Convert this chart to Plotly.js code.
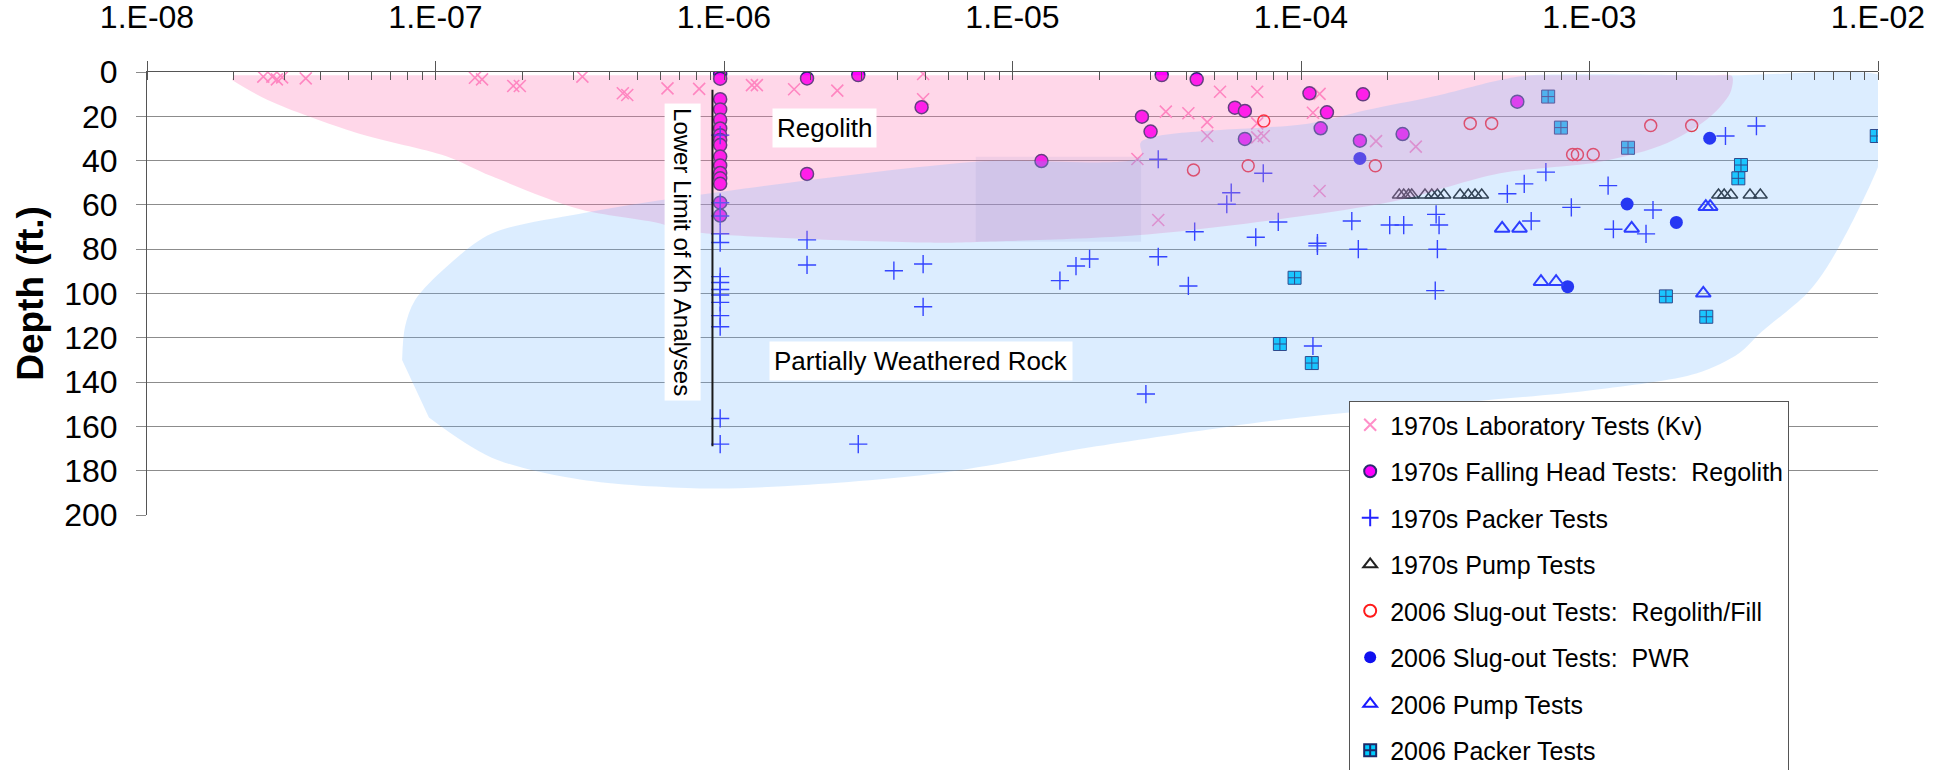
<!DOCTYPE html>
<html><head><meta charset="utf-8">
<script src="https://cdn.plot.ly/plotly-3.0.1.min.js"></script>
<style>html,body{margin:0;padding:0;background:#fff}#chart{width:1956px;height:770px}</style>
</head><body><div id="chart"></div>
<script>
// ---------- tick labels ----------
const xTickVals = [1e-8, 1e-7, 1e-6, 1e-5, 1e-4, 1e-3, 1e-2];
const xTickText = ["1.E-08", "1.E-07", "1.E-06", "1.E-05", "1.E-04", "1.E-03", "1.E-02"];
const yTickVals = [0, 20, 40, 60, 80, 100, 120, 140, 160, 180, 200];

// ---------- series names ----------
const seriesNames = [
  "1970s Laboratory Tests (Kv)",
  "1970s Falling Head Tests:  Regolith",
  "1970s Packer Tests",
  "1970s Pump Tests",
  "2006 Slug-out Tests:  Regolith/Fill",
  "2006 Slug-out Tests:  PWR",
  "2006 Pump Tests",
  "2006 Packer Tests"
];

// ---------- data: hydraulic conductivity (K) vs depth (ft) ----------
const labK = [2.53e-8, 2.72e-8, 2.82e-8, 2.94e-8, 3.55e-8, 1.37e-7, 1.45e-7, 1.86e-7, 1.96e-7, 3.23e-7,
  4.46e-7, 4.62e-7, 6.37e-7, 8.2e-7, 1.25e-6, 1.30e-6, 1.75e-6, 2.47e-6, 4.9e-6, 4.9e-6,
  2.71e-5, 3.20e-5, 3.40e-5, 4.07e-5, 4.73e-5, 4.73e-5, 5.24e-5, 7.05e-5, 7.05e-5, 7.05e-5,
  7.43e-5, 1.16e-4, 1.10e-4, 1.16e-4, 1.82e-4, 2.50e-4];
const labD = [2.1, 2.1, 3.3, 2.4, 2.9, 2.6, 3.3, 6.3, 6.3, 2.1,
  9.6, 10.4, 7.4, 7.6, 5.9, 5.9, 7.8, 8.4, 0.9, 12.3,
  39.3, 66.8, 17.9, 18.6, 22.6, 28.9, 8.9, 8.9, 23.2, 29.5,
  28.9, 9.9, 18.4, 53.7, 31.2, 33.7];

const fallK = [9.7e-7, 9.7e-7, 9.7e-7, 9.7e-7, 9.7e-7, 9.7e-7, 9.7e-7, 9.7e-7, 9.7e-7, 9.7e-7,
  9.7e-7, 9.7e-7, 9.7e-7, 9.7e-7, 9.7e-7, 9.7e-7,
  1.94e-6, 2.92e-6, 4.84e-6, 1.94e-6, 1.26e-5, 2.81e-5, 3.01e-5, 3.29e-5, 4.35e-5, 5.90e-5,
  6.39e-5, 6.39e-5, 1.07e-4, 1.64e-4, 1.23e-4, 1.17e-4, 1.60e-4, 2.25e-4, 5.62e-4];
const fallD = [0.9, 3.0, 12.3, 16.9, 21.6, 25.5, 28.5, 30.7, 33.0, 38.2,
  42.2, 45.6, 48.0, 50.5, 59.0, 64.8,
  2.9, 1.4, 15.9, 46.0, 40.2, 20.2, 26.9, 1.4, 3.3, 16.1,
  17.6, 30.2, 9.6, 10.1, 18.2, 25.4, 31.0, 28.0, 13.4];

const packK = [9.7e-7, 9.7e-7, 9.7e-7, 9.7e-7, 9.7e-7, 9.7e-7, 9.7e-7, 9.7e-7, 9.7e-7, 9.7e-7,
  9.7e-7, 9.7e-7, 9.7e-7, 9.7e-7,
  1.94e-6, 1.94e-6, 3.88e-6, 4.9e-6, 4.9e-6, 2.92e-6, 1.46e-5, 1.66e-5, 1.85e-5, 3.20e-5,
  3.20e-5, 4.07e-5, 2.90e-5, 5.73e-5, 5.53e-5, 7.4e-5, 4.28e-5, 6.97e-5, 8.34e-5, 1.10e-4,
  1.14e-4, 1.14e-4, 1.50e-4, 1.58e-4, 2.03e-4, 2.27e-4, 2.94e-4, 3.01e-4, 2.97e-4, 2.92e-4,
  5.19e-4, 5.94e-4, 7.06e-4, 6.28e-4, 8.65e-4, 1.16e-3, 1.21e-3, 1.57e-3, 1.66e-3, 2.96e-3,
  3.79e-3];
const packD = [28.5, 59, 65, 73, 77, 92.4, 95, 98.2, 100.7, 104,
  110, 115, 156.4, 168,
  75.8, 87.1, 89.7, 86.7, 106, 168, 94.2, 87.6, 84.4, 39.4,
  83.4, 96.6, 145.4, 54.5, 59.7, 45.7, 72.1, 74.6, 67.7, 123.7,
  77.3, 78.5, 67.3, 80.0, 69.1, 69.1, 64.3, 69.1, 80.0, 98.7,
  55.0, 50.5, 45.2, 67.3, 61.1, 51.3, 71.0, 73.1, 62.3, 28.9,
  24.4];

const pump70K = [2.19e-4, 2.27e-4, 2.36e-4, 2.42e-4, 2.69e-4, 2.84e-4, 2.97e-4, 3.13e-4, 3.56e-4,
  3.80e-4, 4.01e-4, 4.23e-4, 2.80e-3, 2.93e-3, 3.09e-3, 3.60e-3, 3.91e-3];
const pump70D = [55.5, 55.5, 55.5, 55.5, 55.5, 55.5, 55.5, 55.5, 55.5,
  55.5, 55.5, 55.5, 55.5, 55.5, 55.5, 55.5, 55.5];

const slugRegK = [7.43e-5, 4.24e-5, 6.56e-5, 3.86e-4, 4.58e-4, 1.81e-4, 8.74e-4, 9.08e-4, 1.03e-3, 1.63e-3, 2.26e-3];
const slugRegD = [22.1, 44.2, 42.3, 23.2, 23.2, 42.3, 37.2, 37.2, 37.2, 24.2, 24.2];

const slugPwrK = [1.60e-4, 8.40e-4, 2.61e-3, 1.35e-3, 2.00e-3];
const slugPwrD = [39.0, 96.9, 29.9, 59.6, 67.9];

const pump06K = [4.98e-4, 5.72e-4, 6.79e-4, 7.66e-4, 1.40e-3, 2.53e-3, 2.62e-3, 2.48e-3];
const pump06D = [70.6, 70.6, 94.7, 94.7, 70.6, 60.8, 60.8, 99.9];

const pack06K = [7.19e-4, 7.96e-4, 1.36e-3, 3.35e-3, 3.28e-3, 9.9e-3, 9.5e-5, 8.45e-5, 1.09e-4, 1.84e-3, 2.54e-3];
const pack06D = [11.1, 25.1, 34.2, 42.0, 48.0, 28.9, 92.9, 122.8, 131.4, 101.3, 110.5];

// ---------- zone outlines (K, depth) ----------
const regolithZoneK = [2.0e-8, 1.0e-6, 1.0e-4, 2.6e-3, 3.1e-3, 3.14e-3, 3.07e-3, 2.62e-3, 1.86e-3, 1.09e-3,
  4.90e-4, 2.20e-4, 1.07e-4, 2.77e-5, 7.53e-6, 4.90e-6, 7.62e-7, 5.81e-7, 3.17e-7, 1.56e-7,
  1.09e-7, 5.34e-8, 2.62e-8, 1.97e-8];
const regolithZoneD = [1.5, 1.5, 1.5, 1.5, 1.6, 3, 9.6, 20.2, 32, 40.5,
  45.7, 57.8, 64.6, 73.6, 76.7, 77, 72, 68, 62, 47,
  38, 27.5, 12.6, 3.6];

const pwrZoneK = [7.66e-8, 7.84e-8, 8.49e-8, 1.09e-7, 1.56e-7, 3.17e-7, 7.62e-7, 7.46e-6, 2.79e-5, 2.79e-5,
  1.07e-4, 1.69e-4, 2.87e-4, 4.90e-4, 6.22e-4, 3.0e-3, 1.02e-2, 1.10e-2, 1.12e-2, 1.07e-2,
  9.92e-3, 8.19e-3, 6.66e-3, 5.67e-3, 3.90e-3, 3.30e-3, 2.36e-3, 1.03e-3, 3.76e-4, 9.93e-5,
  5.67e-5, 1.95e-5, 5.61e-6, 1.61e-6, 8.26e-7, 3.17e-7, 1.56e-7, 9.49e-8];
const pwrZoneD = [130, 115, 103, 88, 73, 64, 56, 40.5, 38.3, 31.6,
  23.2, 17.2, 11.1, 3.6, 1.5, 1.5, 1.5, 6, 17, 32,
  44, 67, 88, 100, 118, 127, 136, 143.6, 149, 156,
  160, 169, 181, 187, 188, 184, 174, 156];

const stepZoneK = [7.46e-6, 2.79e-5, 2.79e-5, 7.46e-6];
const stepZoneD = [38.3, 38.3, 76.6, 76.6];

const limitK = [9.12e-7, 9.12e-7];
const limitD = [8, 169];

// ---------- traces ----------
const FONT = "Liberation Sans, Arial, Helvetica, sans-serif";
function pts(x, y, name, marker, grp) {
  return {type: 'scatter', mode: 'markers', x: x, y: y, name: name, marker: marker,
          legendgroup: grp, hoverinfo: 'x+y+name'};
}
const traces = [
  pts(labK, labD, seriesNames[0], {symbol: 'x-thin', size: 12, color: '#ff8fc8', line: {color: '#ff8fc8', width: 1.6}}, 'g1'),
  pts(fallK, fallD, seriesNames[1], {symbol: 'circle', size: 13, color: '#ff00ff', line: {color: '#2b2b70', width: 1.5}}, 'g2'),
  pts(packK, packD, seriesNames[2], {symbol: 'cross-thin', size: 13, color: '#2323ff', line: {color: '#2323ff', width: 1.4}}, 'g3'),
  pts(pump70K, pump70D, seriesNames[3], {symbol: 'triangle-up-open', size: 12, color: '#222222', line: {color: '#222222', width: 1.5}}, 'g4'),
  pts(slugRegK, slugRegD, seriesNames[4], {symbol: 'circle-open', size: 12, color: '#ff1a1a', line: {color: '#ff1a1a', width: 1.5}}, 'g5'),
  pts(slugPwrK, slugPwrD, seriesNames[5], {symbol: 'circle', size: 13, color: '#1010f0', line: {color: '#1010f0', width: 0}}, 'g6'),
  pts(pump06K, pump06D, seriesNames[6], {symbol: 'triangle-up-open', size: 13, color: '#1a1aff', line: {color: '#1a1aff', width: 2}}, 'g7'),
  pts(pack06K, pack06D, seriesNames[7], {symbol: 'square-cross', size: 13, color: '#00ccff', line: {color: '#1c2a6a', width: 1}}, 'g8')
];
// zone overlays (semi-transparent, drawn above the points as in the source)
traces.push({type: 'scatter', mode: 'lines', x: regolithZoneK, y: regolithZoneD, fill: 'toself',
  fillcolor: 'rgba(255,110,175,0.28)', line: {width: 0, shape: 'spline', smoothing: 0.9},
  showlegend: false, hoverinfo: 'skip'});
traces.push({type: 'scatter', mode: 'lines', x: pwrZoneK, y: pwrZoneD, fill: 'toself',
  fillcolor: 'rgba(110,180,255,0.24)', line: {width: 0, shape: 'spline', smoothing: 0.9},
  showlegend: false, hoverinfo: 'skip'});
traces.push({type: 'scatter', mode: 'lines', x: stepZoneK, y: stepZoneD, fill: 'toself',
  fillcolor: 'rgba(120,120,200,0.10)', line: {width: 0},
  showlegend: false, hoverinfo: 'skip'});
traces.push({type: 'scatter', mode: 'lines', x: limitK, y: limitD,
  line: {color: '#1a1a1a', width: 2}, showlegend: false, hoverinfo: 'skip'});

const layout = {
  width: 1956, height: 770,
  margin: {l: 147, r: 78, t: 72, b: 255, pad: 0, autoexpand: false},
  paper_bgcolor: '#ffffff', plot_bgcolor: 'rgba(0,0,0,0)',
  font: {family: FONT, color: '#000000'},
  showlegend: true,
  xaxis: {
    type: 'log', range: [-8, -2], side: 'top',
    tickmode: 'array', tickvals: xTickVals, ticktext: xTickText,
    tickfont: {size: 32, family: FONT}, ticks: 'outside', ticklen: 10, tickwidth: 1, tickcolor: '#555555',
    ticklabelstandoff: 20,
    showline: true, linecolor: '#555555', linewidth: 1, showgrid: false, zeroline: false,
    minor: {ticks: 'inside', ticklen: 8, tickwidth: 1, tickcolor: '#555555', dtick: 'D1', showgrid: false},
    fixedrange: true, automargin: false
  },
  yaxis: {
    range: [200, 0], tickmode: 'array', tickvals: yTickVals,
    tickfont: {size: 32, family: FONT}, ticks: 'outside', ticklen: 10, tickwidth: 1, tickcolor: '#8a8a8a',
    ticklabelstandoff: 12,
    showline: true, linecolor: '#555555', linewidth: 1,
    showgrid: true, gridcolor: '#8c8c8c', gridwidth: 1, zeroline: false,
    title: {text: '<b>Depth (ft.)</b>', font: {size: 37, family: FONT}, standoff: 9},
    fixedrange: true, automargin: false
  },
  legend: {
    x: 0.6945, y: 0.2573, xanchor: 'left', yanchor: 'top',
    bgcolor: '#ffffff', bordercolor: '#555555', borderwidth: 1,
    font: {size: 25, family: FONT, color: '#000000'},
    traceorder: 'grouped', tracegroupgap: 11, itemsizing: 'constant'
  },
  annotations: [
    {x: -5.652, y: 25.5, xref: 'x', yref: 'y', text: 'Regolith', showarrow: false,
     font: {size: 26, family: FONT, color: '#000'}, bgcolor: '#ffffff', borderpad: 4},
    {x: -5.317, y: 130.5, xref: 'x', yref: 'y', text: 'Partially Weathered Rock', showarrow: false,
     font: {size: 26, family: FONT, color: '#000'}, bgcolor: '#ffffff', borderpad: 4},
    {x: -6.142, y: 81.3, xref: 'x', yref: 'y', text: 'Lower Limit of Kh Analyses', showarrow: false,
     textangle: 90, font: {size: 24, family: FONT, color: '#000'}, bgcolor: '#ffffff', borderpad: 4}
  ]
};

Plotly.newPlot('chart', traces, layout, {displayModeBar: false, staticPlot: true});
</script>
</body></html>
